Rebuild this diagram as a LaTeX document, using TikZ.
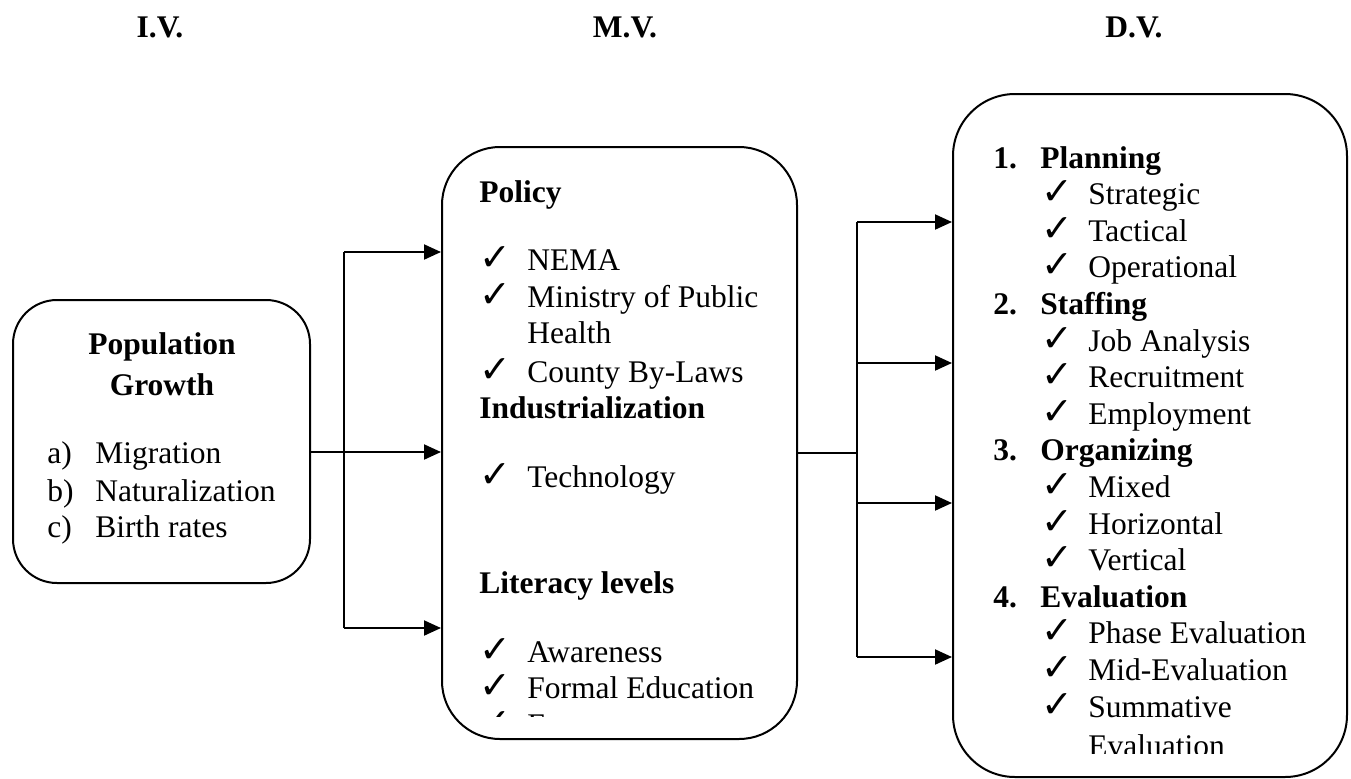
\documentclass[tikz,border=0pt]{standalone}
\usepackage{fontspec}
\setmainfont{Liberation Serif}
\newfontfamily\symfont{DejaVu Sans}
\usetikzlibrary{arrows.meta}
\newcommand{\chk}{{\symfont\fontsize{19}{19}\selectfont ✓}}

\begin{document}
\begin{tikzpicture}[x=0.5pt, y=-0.5pt,
    txt/.style={anchor=base west, inner sep=0pt, font=\fontsize{15.75}{18.3}\selectfont},
    head/.style={txt, font=\fontsize{15.75}{18.3}\selectfont\bfseries},
    box/.style={draw, line width=1pt, inner sep=0pt},
    link/.style={line width=1pt},
    arr/.style={line width=1pt, -{Triangle[length=8.5pt,width=7.5pt]}}]
    \useasboundingbox (0,0) rectangle (1351,778);

    % Column titles
    \node[head, anchor=base] (ivhead) at (160,37) {I.V.};
    \node[head, anchor=base] (mvhead) at (625,37) {M.V.};
    \node[head, anchor=base] (dvhead) at (1134,37) {D.V.};

    % Three boxes
    \node[box, minimum width=148.5pt, minimum height=141.5pt, rounded corners=22pt] (iv) at (161.5,441.5) {};
    \node[box, minimum width=177.5pt, minimum height=296pt, rounded corners=29pt] (mv) at (619.5,443) {};
    \node[box, minimum width=197pt, minimum height=341.5pt, rounded corners=31pt] (dv) at (1150,435.5) {};

    % Independent variable
    \node[head, anchor=base] (popa) at (162,354) {Population};
    \node[head, anchor=base] (popb) at (162,395) {Growth};
    \node[txt] (la) at (47,463) {a)};
    \node[txt] (migr) at (95,463) {Migration};
    \node[txt] (lb) at (47,501) {b)};
    \node[txt] (natu) at (95,501) {Naturalization};
    \node[txt] (lc) at (47,537) {c)};
    \node[txt] (birth) at (95,537) {Birth rates};

    % Moderating variables
    \node[head] (policy) at (479,202) {Policy};
    \node[txt] (c1) at (479,270) {\chk};
    \node[txt] (nema) at (527,270) {NEMA};
    \node[txt] (c2) at (479,307) {\chk};
    \node[txt] (moh) at (527,307) {Ministry of Public};
    \node[txt] (moh2) at (527,343) {Health};
    \node[txt] (c3) at (479,382) {\chk};
    \node[txt] (county) at (527,382) {County By-Laws};
    \node[head] (indus) at (479,418) {Industrialization};
    \node[txt] (c4) at (479,487) {\chk};
    \node[txt] (tech) at (527,487) {Technology};
    \node[head] (lit) at (479,593) {Literacy levels};
    \node[txt] (c5) at (479,662) {\chk};
    \node[txt] (aware) at (527,662) {Awareness};
    \node[txt] (c6) at (479,698) {\chk};
    \node[txt] (formal) at (527,698) {Formal Education};
    \begin{scope}
        \clip (442,147) rectangle (797,716);
        \node[txt] (c7) at (479,735) {\chk};
        \node[txt] (lastm) at (527,735) {E};
    \end{scope}

    % Dependent variables
    \node[head] (n1) at (993,168) {1.};
    \node[head] (plan) at (1040,168) {Planning};
    \node[txt] (d1) at (1041,204.6) {\chk};
    \node[txt] (strat) at (1088,204.6) {Strategic};
    \node[txt] (d2) at (1041,241.2) {\chk};
    \node[txt] (tact) at (1088,241.2) {Tactical};
    \node[txt] (d3) at (1041,277.8) {\chk};
    \node[txt] (oper) at (1088,277.8) {Operational};
    \node[head] (n2) at (993,314.4) {2.};
    \node[head] (staff) at (1040,314.4) {Staffing};
    \node[txt] (d4) at (1041,351) {\chk};
    \node[txt] (job) at (1088,351) {Job Analysis};
    \node[txt] (d5) at (1041,387.6) {\chk};
    \node[txt] (recr) at (1088,387.6) {Recruitment};
    \node[txt] (d6) at (1041,424.2) {\chk};
    \node[txt] (empl) at (1088,424.2) {Employment};
    \node[head] (n3) at (993,460.8) {3.};
    \node[head] (orga) at (1040,460.8) {Organizing};
    \node[txt] (d7) at (1041,497.4) {\chk};
    \node[txt] (mixed) at (1088,497.4) {Mixed};
    \node[txt] (d8) at (1041,534) {\chk};
    \node[txt] (horiz) at (1088,534) {Horizontal};
    \node[txt] (d9) at (1041,570.6) {\chk};
    \node[txt] (vert) at (1088,570.6) {Vertical};
    \node[head] (n4) at (993,607.2) {4.};
    \node[head] (evalu) at (1040,607.2) {Evaluation};
    \node[txt] (d10) at (1041,643.8) {\chk};
    \node[txt] (phase) at (1088,643.8) {Phase Evaluation};
    \node[txt] (d11) at (1041,680.4) {\chk};
    \node[txt] (mid) at (1088,680.4) {Mid-Evaluation};
    \node[txt] (d12) at (1041,717) {\chk};
    \node[txt] (summ) at (1088,717) {Summative};
    \begin{scope}
        \clip (953,94) rectangle (1347,753);
        \node[txt] (summ2) at (1088,756) {Evaluation};
    \end{scope}

    % Connectors I.V. -> M.V.
    \coordinate (ivsplit) at (344,452);
    \draw[arr] (iv.east |- ivsplit) -- (mv.west |- ivsplit);
    \draw[link] (ivsplit |- 0,628) -- (ivsplit |- 0,252);
    \draw[arr] (ivsplit |- 0,252) -- (mv.west |- 0,252);
    \draw[arr] (ivsplit |- 0,628) -- (mv.west |- 0,628);

    % Connectors M.V. -> D.V.
    \coordinate (dvsplit) at (857,453);
    \draw[line width=0.7pt] (mv.east |- dvsplit) -- (dvsplit);
    \draw[link] (dvsplit |- 0,222) -- (dvsplit |- 0,657);
    \foreach \yy in {222,363,503,657}
        \draw[arr] (dvsplit |- 0,\yy) -- (dv.west |- 0,\yy);
\end{tikzpicture}
\end{document}
